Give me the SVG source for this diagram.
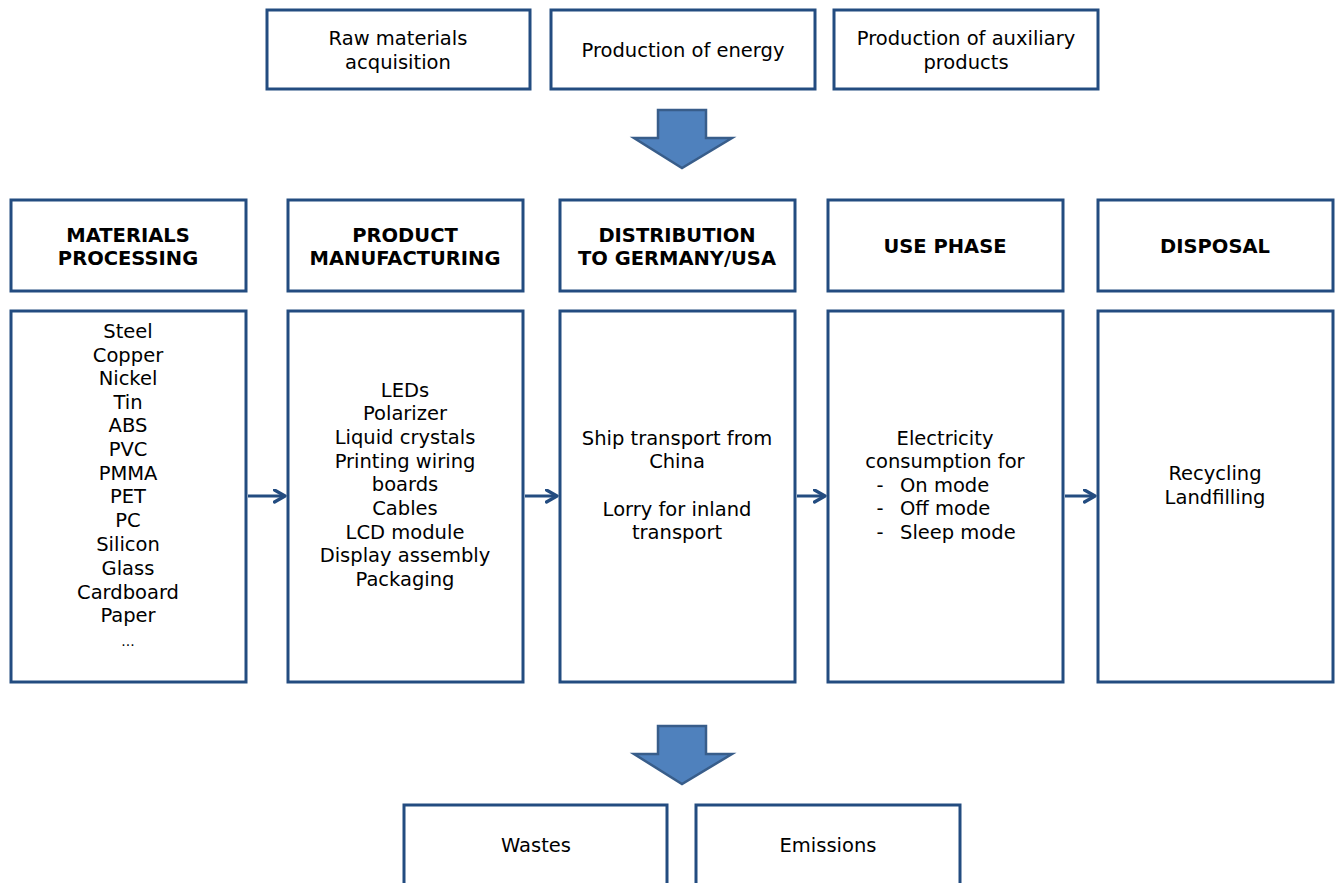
<svg xmlns="http://www.w3.org/2000/svg" width="1340" height="883" viewBox="0 0 1340 883">
<style>
.box{fill:#fff;stroke:#234C80;stroke-width:3}
.t{font-family:"DejaVu Sans",Verdana,sans-serif;font-size:19.5px;fill:#000;text-anchor:middle}
.b{font-family:"DejaVu Sans",Verdana,sans-serif;font-size:19.5px;font-weight:bold;fill:#000;text-anchor:middle}
.big{fill:#4F81BD;stroke:#385D8A;stroke-width:2.5}
.con{stroke:#234C80;stroke-width:3;fill:none}
</style>
<defs>
<marker id="ah" viewBox="0 0 10 10" refX="8" refY="5" markerWidth="5" markerHeight="5" orient="auto" markerUnits="strokeWidth">
<path d="M1,1 L8,5 L1,9" fill="none" stroke="#234C80" stroke-width="2.2" stroke-linecap="round" stroke-linejoin="round"/>
</marker>
</defs>
<rect width="1340" height="883" fill="#fff"/>
<g id="raw"><rect class="box" x="267" y="10" width="263" height="79"/><text class="t" x="398" y="45">Raw materials</text><text class="t" x="398" y="69">acquisition</text></g>
<g id="energy"><rect class="box" x="551" y="10" width="264" height="79"/><text class="t" x="683" y="57">Production of energy</text></g>
<g id="aux"><rect class="box" x="834" y="10" width="264" height="79"/><text class="t" x="966" y="45">Production of auxiliary</text><text class="t" x="966" y="69">products</text></g>
<g id="arrow-top"><path class="big" d="M658,110 H706 V138 H732 L682,168 L634,138 H658 Z"/></g>
<g id="h1"><rect class="box" x="11" y="200" width="235" height="91"/><text class="b" x="128" y="242">MATERIALS</text><text class="b" x="128" y="265">PROCESSING</text></g>
<g id="h2"><rect class="box" x="288" y="200" width="235" height="91"/><text class="b" x="405" y="242">PRODUCT</text><text class="b" x="405" y="265">MANUFACTURING</text></g>
<g id="h3"><rect class="box" x="560" y="200" width="235" height="91"/><text class="b" x="677" y="242">DISTRIBUTION</text><text class="b" x="677" y="265">TO GERMANY/USA</text></g>
<g id="h4"><rect class="box" x="828" y="200" width="235" height="91"/><text class="b" x="945" y="253">USE PHASE</text></g>
<g id="h5"><rect class="box" x="1098" y="200" width="235" height="91"/><text class="b" x="1215" y="253">DISPOSAL</text></g>
<g id="c1"><rect class="box" x="11" y="311" width="235" height="371"/>
<text class="t" x="128" y="338">Steel</text><text class="t" x="128" y="362">Copper</text><text class="t" x="128" y="385">Nickel</text><text class="t" x="128" y="409">Tin</text><text class="t" x="128" y="432">ABS</text><text class="t" x="128" y="456">PVC</text><text class="t" x="128" y="480">PMMA</text><text class="t" x="128" y="503">PET</text><text class="t" x="128" y="527">PC</text><text class="t" x="128" y="551">Silicon</text><text class="t" x="128" y="575">Glass</text><text class="t" x="128" y="599">Cardboard</text><text class="t" x="128" y="622">Paper</text><text class="t" x="128" y="646" style="font-size:14px">...</text></g>
<g id="c2"><rect class="box" x="288" y="311" width="235" height="371"/>
<text class="t" x="405" y="397">LEDs</text><text class="t" x="405" y="420">Polarizer</text><text class="t" x="405" y="444">Liquid crystals</text><text class="t" x="405" y="468">Printing wiring</text><text class="t" x="405" y="491">boards</text><text class="t" x="405" y="515">Cables</text><text class="t" x="405" y="539">LCD module</text><text class="t" x="405" y="562">Display assembly</text><text class="t" x="405" y="586">Packaging</text></g>
<g id="c3"><rect class="box" x="560" y="311" width="235" height="371"/>
<text class="t" x="677" y="445">Ship transport from</text><text class="t" x="677" y="468">China</text><text class="t" x="677" y="516">Lorry for inland</text><text class="t" x="677" y="539">transport</text></g>
<g id="c4"><rect class="box" x="828" y="311" width="235" height="371"/>
<text class="t" x="945" y="445">Electricity</text><text class="t" x="945" y="468">consumption for</text>
<text class="t" x="880" y="492">-</text><text class="t" x="900" y="492" style="text-anchor:start">On mode</text>
<text class="t" x="880" y="515">-</text><text class="t" x="900" y="515" style="text-anchor:start">Off mode</text>
<text class="t" x="880" y="539">-</text><text class="t" x="900" y="539" style="text-anchor:start">Sleep mode</text></g>
<g id="c5"><rect class="box" x="1098" y="311" width="235" height="371"/>
<text class="t" x="1215" y="480">Recycling</text><text class="t" x="1215" y="504">Landfilling</text></g>
<g id="connectors">
<line class="con" x1="248" y1="496" x2="285" y2="496" marker-end="url(#ah)"/>
<line class="con" x1="525" y1="496" x2="557" y2="496" marker-end="url(#ah)"/>
<line class="con" x1="797" y1="496" x2="825" y2="496" marker-end="url(#ah)"/>
<line class="con" x1="1065" y1="496" x2="1095" y2="496" marker-end="url(#ah)"/>
</g>
<g id="arrow-bottom"><path class="big" d="M658,726 H706 V754 H732 L682,784 L634,754 H658 Z"/></g>
<g id="wastes"><rect class="box" x="404" y="805" width="263" height="90"/><text class="t" x="536" y="852">Wastes</text></g>
<g id="emissions"><rect class="box" x="696" y="805" width="264" height="90"/><text class="t" x="828" y="852">Emissions</text></g>
</svg>
